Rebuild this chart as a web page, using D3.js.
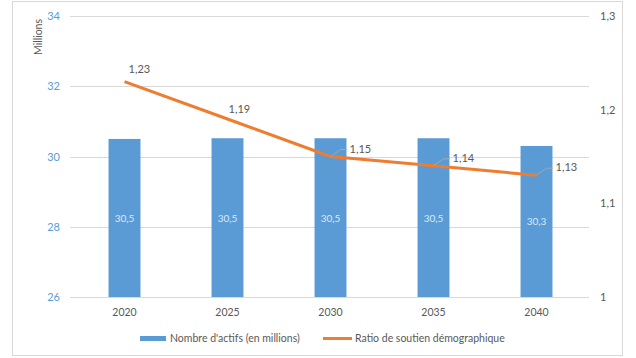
<!DOCTYPE html>
<html><head><meta charset="utf-8">
<script src="https://cdn.jsdelivr.net/npm/d3@7"></script>
<style>body{margin:0;background:#fff}svg{display:block}text{font-family:Lato,"Open Sans",sans-serif}</style>
</head><body><svg id="c" width="636" height="358"></svg>
<script>
const years = ["2020","2025","2030","2035","2040"];
const actifs = [30.5, 30.52, 30.52, 30.52, 30.3];
const actifLabels = ["30,5","30,5","30,5","30,5","30,3"];
const ratio = [1.23, 1.19, 1.15, 1.14, 1.13];
const ratioLabels = ["1,23","1,19","1,15","1,14","1,13"];
const leftTicks = [26, 28, 30, 32, 34];
const rightTicks = [1, 1.1, 1.2, 1.3];
const seriesNames = ["Nombre d'actifs (en millions)", "Ratio de soutien démographique"];

const svg = d3.select("#c");
const blue = "#5b9bd5", orange = "#ed7d31", grey = "#595959";
svg.append("rect").attr("x",12.5).attr("y",1.5).attr("width",610).attr("height",354)
  .attr("fill","#fff").attr("stroke","#d9d9d9");

const x = d3.scaleBand().domain(years).range([73, 588]).paddingInner(0).paddingOuter(0);
const yL = d3.scaleLinear().domain([26, 34]).range([297, 16]);
const yR = d3.scaleLinear().domain([1, 1.3]).range([297, 16]);

// gridlines
svg.append("g").selectAll("line").data(leftTicks).join("line")
  .attr("x1",70).attr("x2",589).attr("y1",d=>Math.round(yL(d))+0.5).attr("y2",d=>Math.round(yL(d))+0.5)
  .attr("stroke","#d9d9d9").attr("stroke-width",1);

// axis labels
const fmt = d => String(d).replace(".", ",");
svg.append("g").selectAll("text").data(leftTicks).join("text")
  .attr("x",60).attr("y",d=>yL(d)+4).attr("text-anchor","end")
  .attr("font-size",11).attr("fill",blue).text(d=>d);
svg.append("g").selectAll("text").data(rightTicks).join("text")
  .attr("x",600).attr("y",d=>yR(d)+4).attr("text-anchor","start")
  .attr("font-size",11).attr("fill",grey).text(fmt);

svg.append("text").attr("transform","translate(42,37) rotate(-90)")
  .attr("text-anchor","middle").attr("font-size",10.5).attr("fill",grey).text("Millions");

// bars
const bw = x.bandwidth()*0.31;
svg.append("g").selectAll("rect").data(years).join("rect")
  .attr("x",d=>x(d)+x.bandwidth()/2-bw/2).attr("width",bw)
  .attr("y",(d,i)=>yL(actifs[i])).attr("height",(d,i)=>yL(26)-yL(actifs[i]))
  .attr("fill",blue);
svg.append("g").selectAll("text").data(years).join("text")
  .attr("x",d=>x(d)+x.bandwidth()/2).attr("y",(d,i)=>(yL(actifs[i])+yL(26))/2+4)
  .attr("text-anchor","middle").attr("font-size",10).attr("fill","#dce9f6").text((d,i)=>actifLabels[i]);

// x labels
svg.append("g").selectAll("text").data(years).join("text")
  .attr("x",d=>x(d)+x.bandwidth()/2).attr("y",316).attr("text-anchor","middle")
  .attr("font-size",10.5).attr("fill",grey).text(d=>d);

// line
const cx = d => x(d)+x.bandwidth()/2;
const line = d3.line().x((d,i)=>cx(years[i])).y(d=>yR(d));
svg.append("path").datum(ratio).attr("d",line).attr("fill","none")
  .attr("stroke",orange).attr("stroke-width",3).attr("stroke-linejoin","round");

// line labels
const labOff = [[4,-9],[1,-6],[19,-4],[19,-4],[19,-4]];
ratio.forEach((v,i)=>{
  const px = cx(years[i]), py = yR(v);
  const o = labOff[i];
  if (i >= 2) {
    svg.append("path").attr("d",`M${px},${py} L${px+10},${py-7} L${px+16},${py-7}`)
      .attr("fill","none").attr("stroke","#a6a6a6").attr("stroke-width",1);
  }
  svg.append("text").attr("x",px+o[0]).attr("y",py+o[1]).attr("text-anchor","start")
    .attr("font-size",11).attr("fill",grey).text(ratioLabels[i]);
});

// legend
svg.append("rect").attr("x",140).attr("y",336).attr("width",26).attr("height",5).attr("fill",blue);
svg.append("text").attr("x",170).attr("y",342).attr("font-size",10.5).attr("fill",grey).text(seriesNames[0]);
svg.append("line").attr("x1",323).attr("x2",352).attr("y1",338.5).attr("y2",338.5).attr("stroke",orange).attr("stroke-width",3);
svg.append("text").attr("x",355).attr("y",342).attr("font-size",10.5).attr("fill",grey).text(seriesNames[1]);
</script></body></html>
